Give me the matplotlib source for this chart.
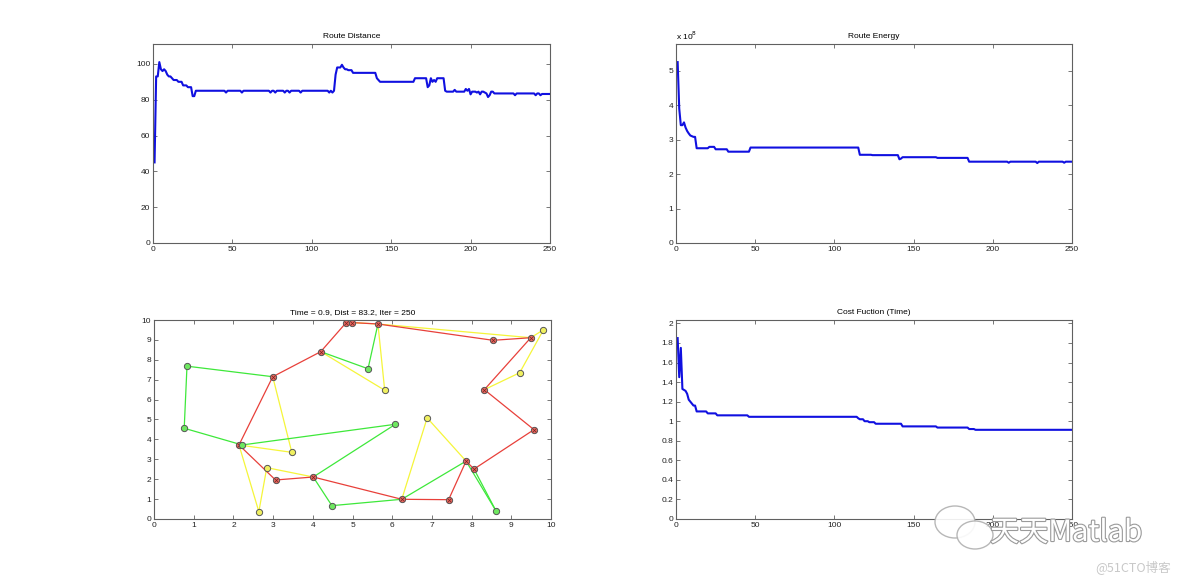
import numpy as np
import matplotlib
matplotlib.use("Agg")
import matplotlib.pyplot as plt
import matplotlib.patheffects as pe
from matplotlib.ticker import FormatStrFormatter
from matplotlib.patches import Ellipse

dist_niveles = [45, 93, 101, 97, 96, 97, 96, 94, 93, 92, 91, 90, 88, 87, 82, 85,
                84, 85, 84, 85, 84, 85, 84, 85, 84, 85, 84, 85, 84, 85, 84, 85, 84, 85,
                94, 98, 99.5, 98, 97, 96.5, 95, 92, 91, 90, 92, 87, 88, 92, 90, 91, 90, 92,
                85, 84.5, 85.5, 84.5, 86, 85, 86, 83, 84.5, 84, 84.5, 83, 84.5, 84, 83.5,
                81.5, 82.5, 84.5, 83.5, 82.5, 83.5, 82.5, 83.5, 82.5, 83.2]
dist_cuentas = [1, 2, 1, 1, 1, 1, 1, 1, 2, 1, 3, 3, 3, 3, 2, 19,
                1, 9, 1, 17, 1, 2, 1, 5, 1, 2, 1, 6, 1, 17, 1, 1, 1, 1,
                1, 3, 1, 1, 2, 3, 15, 1, 1, 22, 8, 1, 1, 1, 1, 1, 1, 5,
                1, 5, 1, 6, 1, 1, 1, 1, 3, 1, 1, 1, 2, 1, 1,
                1, 1, 2, 13, 1, 12, 1, 2, 1, 6]

energia_niveles = [5.25, 3.9, 3.42, 3.5, 3.35, 3.25, 3.18, 3.12, 3.1, 3.08, 2.75, 2.79,
                   2.72, 2.65, 2.77, 2.56, 2.55, 2.43, 2.45, 2.49, 2.47, 2.36, 2.33, 2.36,
                   2.32, 2.36, 2.33, 2.36]
energia_cuentas = [1, 1, 2, 1, 1, 1, 1, 1, 1, 2, 8, 4,
                   8, 14, 69, 8, 17, 1, 1, 22, 20, 25, 1, 17,
                   1, 16, 1, 5]

tiempo_niveles = [1.85, 1.45, 1.75, 1.33, 1.32, 1.31, 1.28, 1.22, 1.2, 1.18, 1.16, 1.1,
                  1.08, 1.06, 1.045, 1.03, 1.02, 1.0, 0.99, 0.974, 0.947, 0.935, 0.92, 0.912]
tiempo_cuentas = [1, 1, 1, 1, 1, 1, 1, 1, 1, 1, 2, 7,
                  6, 20, 69, 1, 3, 3, 4, 17, 22, 20, 4, 62]

# Nodos de la ruta (x, y, color)
nodo_x = [0.83, 0.76, 2.99, 2.14, 2.22, 3.47, 2.84, 3.06, 2.64, 4.01, 4.48, 4.20, 4.84, 4.99,
          5.64, 5.39, 5.81, 6.08, 6.88, 6.24, 7.42, 7.86, 8.06, 8.61, 8.32, 9.21, 9.57, 9.49,
          9.81, 8.54]
nodo_y = [7.68, 4.56, 7.15, 3.72, 3.72, 3.35, 2.58, 1.96, 0.37, 2.11, 0.67, 8.41, 9.87, 9.87,
          9.80, 7.55, 6.47, 4.76, 5.08, 0.99, 0.97, 2.91, 2.51, 0.42, 6.50, 7.35, 4.49, 9.11,
          9.51, 8.98]
nodo_color = ['g', 'g', 'r', 'r', 'g', 'y', 'y', 'r', 'y', 'r', 'g', 'r', 'r', 'r',
              'r', 'g', 'y', 'g', 'y', 'r', 'r', 'r', 'r', 'g', 'r', 'y', 'r', 'r',
              'y', 'r']

aristas_amarillas = [(2, 5), (5, 3), (3, 8), (8, 6), (6, 9), (11, 16), (16, 14), (13, 14),
                     (14, 27), (27, 28), (28, 25), (25, 24), (19, 18), (18, 21)]
aristas_verdes = [(0, 2), (0, 1), (1, 4), (4, 17), (17, 9), (9, 10), (10, 19), (19, 21),
                  (21, 23), (22, 23), (11, 15), (15, 14)]
aristas_rojas = [(2, 11), (11, 12), (12, 13), (13, 14), (14, 29), (29, 27), (27, 24), (24, 26),
                 (26, 22), (22, 21), (21, 20), (20, 19), (19, 9), (9, 7), (7, 3), (3, 2)]

colores = {'r': '#e8403a', 'g': '#3ee83a', 'y': '#f5f53a'}
relleno = {'r': '#e86a60', 'g': '#6ee860', 'y': '#f0f060'}

distancia = np.repeat(dist_niveles, dist_cuentas)
energia = np.repeat(energia_niveles, energia_cuentas)
tiempo = np.repeat(tiempo_niveles, tiempo_cuentas)

plt.rcParams['font.family'] = ['Liberation Sans', 'DejaVu Sans']
fs = 6
gris = '#606060'

fig = plt.figure(figsize=(11.84, 5.83), dpi=100)
ax1 = fig.add_axes([0.1292, 0.5832, 0.3353, 0.3413])
ax2 = fig.add_axes([0.5710, 0.5832, 0.3345, 0.3413])
ax3 = fig.add_axes([0.1301, 0.1098, 0.3353, 0.3413])
ax4 = fig.add_axes([0.5710, 0.1098, 0.3345, 0.3413])


def estilo(ax):
    for s in ax.spines.values():
        s.set_color(gris)
        s.set_linewidth(0.8)
    ax.tick_params(direction='in', length=3, width=0.6, color=gris, labelsize=fs,
                   labelcolor='#222222', top=True, right=True, pad=2)
    ax.yaxis.set_major_formatter(FormatStrFormatter('%g'))


for ax, serie, titulo in [(ax1, distancia, 'Route Distance'),
                          (ax2, energia, 'Route Energy'),
                          (ax4, tiempo, 'Cost Fuction (Time)')]:
    it = np.arange(1, len(serie) + 1)
    ax.plot(it, serie, color='#1010e0', linewidth=1.5)
    ax.set_xlim(0, 250)
    ax.set_ylim(0, 1.1 * serie.max())
    ax.set_xticks(np.arange(0, 251, 50))
    ax.set_title(titulo, fontsize=fs, pad=4)
    estilo(ax)

ax1.set_yticks(np.arange(0, 101, 20))
ax2.set_yticks(np.arange(0, 6, 1))
ax4.set_yticks(np.arange(0, 2.01, 0.2))
ax2.text(0, 1.012, r'x 10$^8$', transform=ax2.transAxes, fontsize=fs, va='bottom')

# Mapa de la ruta
for aristas, c in [(aristas_amarillas, 'y'), (aristas_verdes, 'g'), (aristas_rojas, 'r')]:
    for i, j in aristas:
        ax3.plot([nodo_x[i], nodo_x[j]], [nodo_y[i], nodo_y[j]], color=colores[c], linewidth=0.9)
for xi, yi, c in zip(nodo_x, nodo_y, nodo_color):
    ax3.plot(xi, yi, 'o', markersize=4.5, markerfacecolor=relleno[c],
             markeredgecolor='#555555', markeredgewidth=0.7)
    if c == 'r':
        ax3.plot(xi, yi, 'x', markersize=2.5, color='#7a2020', markeredgewidth=0.5)
ax3.set_xlim(0, 10)
ax3.set_ylim(0, 10)
ax3.set_xticks(range(11))
ax3.set_yticks(range(11))
ax3.set_title('Time = 0.9, Dist = 83.2, Iter = 250', fontsize=fs, pad=4)
estilo(ax3)

# Marca de agua
for cx, cy, w, h in [(955, 522, 40, 32), (975, 535, 36, 28)]:
    fig.patches.append(Ellipse((cx / 1184, 1 - cy / 583), w / 1184, h / 583,
                               transform=fig.transFigure, facecolor='white',
                               edgecolor='#b0b0b0', linewidth=1.0, alpha=0.9))
fig.text(990 / 1184, 1 - 533 / 583, '天天Matlab', fontsize=21, color='white',
         family=['Noto Sans CJK SC', 'DejaVu Sans'], va='center', ha='left',
         path_effects=[pe.withStroke(linewidth=1.6, foreground='#9a9a9a')])
fig.text(1095 / 1184, 1 - 567 / 583, '@51CTO博客', fontsize=9, color='#c8c8c8',
         family=['Noto Sans CJK SC', 'DejaVu Sans'], va='center', ha='left')

fig.savefig('out.png', dpi=100, facecolor='white')
